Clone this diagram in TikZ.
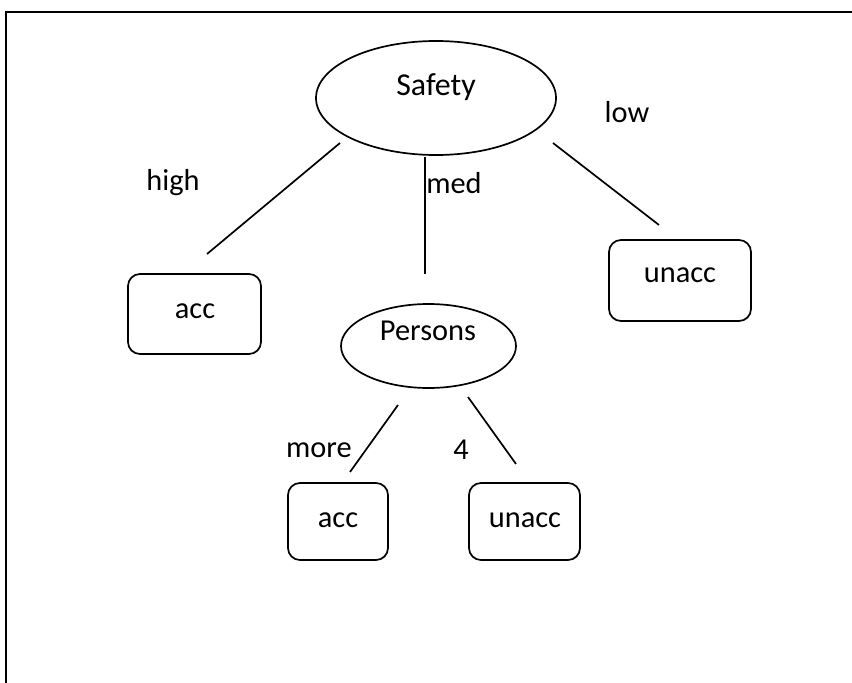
\documentclass[tikz,border=0pt]{standalone}
\usepackage{fontspec}
\setmainfont{Carlito}
\usetikzlibrary{shapes.geometric}
\begin{document}
\begin{tikzpicture}[x=1bp,y=-1bp,
  every node/.style={font=\fontsize{30.5}{36}\selectfont, inner sep=0pt},
  ell/.style={draw, ellipse, line width=1.7bp},
  leaf/.style={draw, rectangle, rounded corners=12bp, line width=1.7bp},
  edge/.style={line width=1.7bp}]
\useasboundingbox (0,0) rectangle (852,683);
\draw[line width=2.4bp] (6,683) -- (6,12) -- (852,12);
% nodes
\node[ell, minimum width=240bp, minimum height=114bp] (safety) at (436,98) {};
\node at (436,87) (safetyt) {\fontsize{32}{38}\selectfont Safety};
\node[leaf, minimum width=133bp, minimum height=80bp] (acc1) at (194.5,314) {};
\node at (195,311) (acc1t) {acc};
\node[leaf, minimum width=142bp, minimum height=81bp] (unacc1) at (680,280.5) {};
\node at (680,275) (unacc1t) {unacc};
\node[ell, minimum width=175bp, minimum height=84bp] (persons) at (428.5,346) {};
\node at (428,331) (personst) {Persons};
\node[leaf, minimum width=100bp, minimum height=77bp] (acc2) at (338,521.5) {};
\node at (338,520) (acc2t) {acc};
\node[leaf, minimum width=111bp, minimum height=77bp] (unacc2) at (524.5,521.5) {};
\node at (525,520) (unacc2t) {unacc};
% labels
\node at (173,183) (lhigh) {high};
\node at (454,183) (lmed) {med};
\node at (627,112) (llow) {low};
\node at (319,450) (lmore) {more};
\node at (461,450) (lfour) {4};
% connector end points
\coordinate (h1) at (340,143);
\coordinate (h2) at (207,254);
\coordinate (m1) at (425,157);
\coordinate (m2) at (425,274);
\coordinate (w1) at (553,143);
\coordinate (w2) at (659,225);
\coordinate (p1) at (398,405);
\coordinate (p2) at (350,472);
\coordinate (q1) at (468,397);
\coordinate (q2) at (516,464);
\draw[edge] (h1) -- (h2);
\draw[edge] (m1) -- (m2);
\draw[edge] (w1) -- (w2);
\draw[edge] (p1) -- (p2);
\draw[edge] (q1) -- (q2);
\end{tikzpicture}
\end{document}
